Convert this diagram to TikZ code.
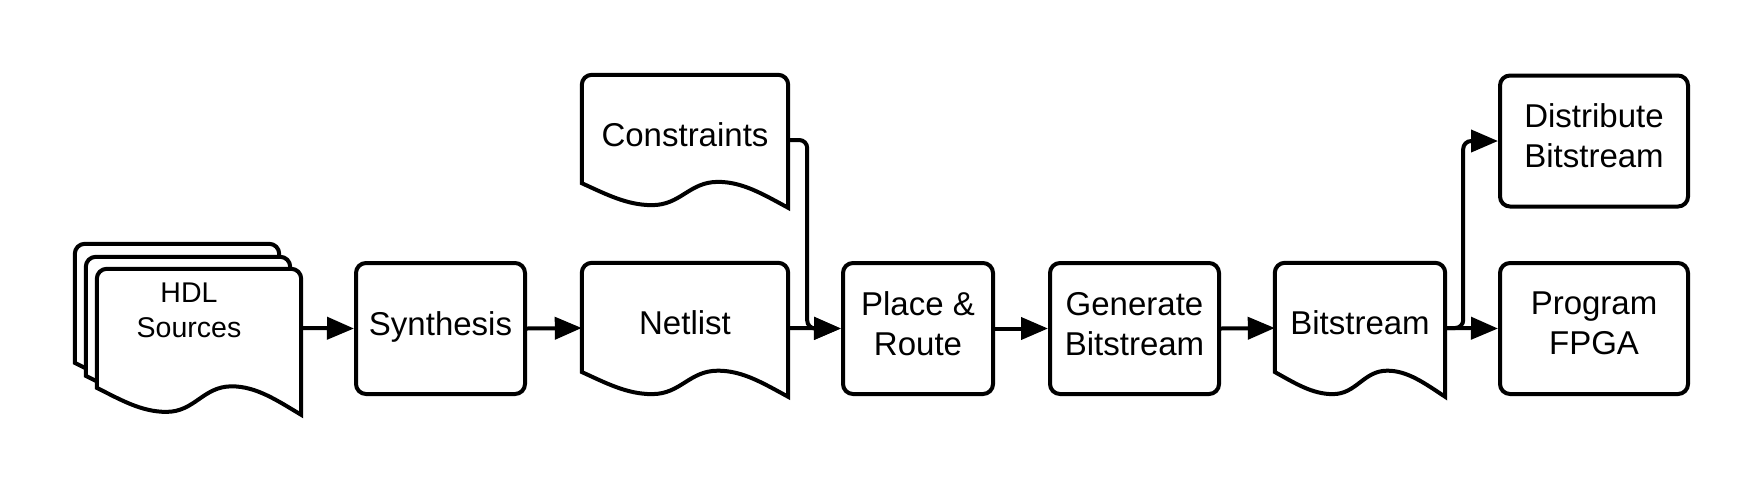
\documentclass[tikz,border=0pt]{standalone}
\usepackage{fontspec}
\setmainfont{Liberation Sans}
\usetikzlibrary{arrows.meta,calc,backgrounds}

\tikzset{
  thickline/.style={line width=4pt},
  procbox/.style={draw,thickline,rounded corners=10pt,minimum width=169pt,minimum height=131pt,
    inner sep=0pt,align=center,text depth=10pt,font=\fontsize{33}{40}\selectfont},
  docbox/.style={minimum width=206pt,minimum height=130pt,inner sep=0pt,align=center,
    text depth=10pt,font=\fontsize{33}{40}\selectfont},
  flow/.style={thickline,-{Triangle[length=27pt,width=22pt]}},
}

% document outline under a node: #1 offset, #2 node, #3 full height
\newcommand{\docshape}[3][0pt,0pt]{%
  \filldraw[thickline,fill=white] let \p1=($(#2.north west)+(#1)$), \p2=($(#2.north east)+(#1)$),
    \n1={\x2-\x1} in
    (\x1,\y1-0.815*#3) -- (\x1,\y1-10pt) arc[start angle=180,end angle=90,radius=10pt]
    -- (\x2-10pt,\y1) arc[start angle=90,end angle=0,radius=10pt] -- (\x2,\y1-#3)
    .. controls (\x2-0.12*\n1,\y1-0.9*#3) and (\x2-0.22*\n1,\y1-0.805*#3) .. (\x2-0.34*\n1,\y1-0.805*#3)
    .. controls (\x1+0.52*\n1,\y1-0.805*#3) and (\x1+0.48*\n1,\y1-0.98*#3) .. (\x1+0.34*\n1,\y1-0.98*#3)
    .. controls (\x1+0.22*\n1,\y1-0.98*#3) and (\x1+0.12*\n1,\y1-0.9*#3) .. (\x1,\y1-0.815*#3) -- cycle;}

\begin{document}
\begin{tikzpicture}[x=1pt,y=-1pt]
\useasboundingbox (0,0) rectangle (1763,488);

\node[docbox,minimum width=204pt,minimum height=118pt,text depth=36pt,
  font=\fontsize{28.5}{35}\selectfont] (hdl) at (199,328) {HDL\hspace*{20pt}\\Sources\hspace*{20pt}};
\node[procbox] (synth) at (440.5,328.5) {Synthesis};
\node[docbox] (netlist) at (685,328) {Netlist};
\node[docbox] (constr) at (685,140) {Constraints};
\node[procbox,minimum width=150pt] (place) at (918,328.5) {Place \&\\Route};
\node[procbox] (gen) at (1134.5,328.5) {Generate\\Bitstream};
\node[docbox,minimum width=170pt] (bits) at (1360,328) {Bitstream};
\node[procbox,minimum width=188pt] (dist) at (1594,141) {Distribute\\Bitstream};
\node[procbox,minimum width=188pt] (prog) at (1594,328.5) {Program\\FPGA};

\begin{pgfonlayer}{background}
\docshape[-22pt,25pt]{hdl}{146pt}
\docshape[-11pt,12pt]{hdl}{146pt}
\docshape{hdl}{146pt}
\docshape{netlist}{134pt}
\docshape{constr}{133pt}
\docshape{bits}{134pt}
\end{pgfonlayer}

\draw[flow] (hdl.east) -- (synth.west);
\draw[flow] (synth.east) -- (netlist.west);
\draw[flow] (netlist.east) -- (place.west);
\draw[flow,rounded corners=8pt] (constr.east) -- ++(19,0) |- (place.west);
\draw[flow] (place.east) -- (gen.west);
\draw[flow] (gen.east) -- (bits.west);
\draw[flow] (bits.east) -- (prog.west);
\draw[flow,rounded corners=8pt] (bits.east) -- ++(18,0) |- (dist.west);
\end{tikzpicture}
\end{document}
